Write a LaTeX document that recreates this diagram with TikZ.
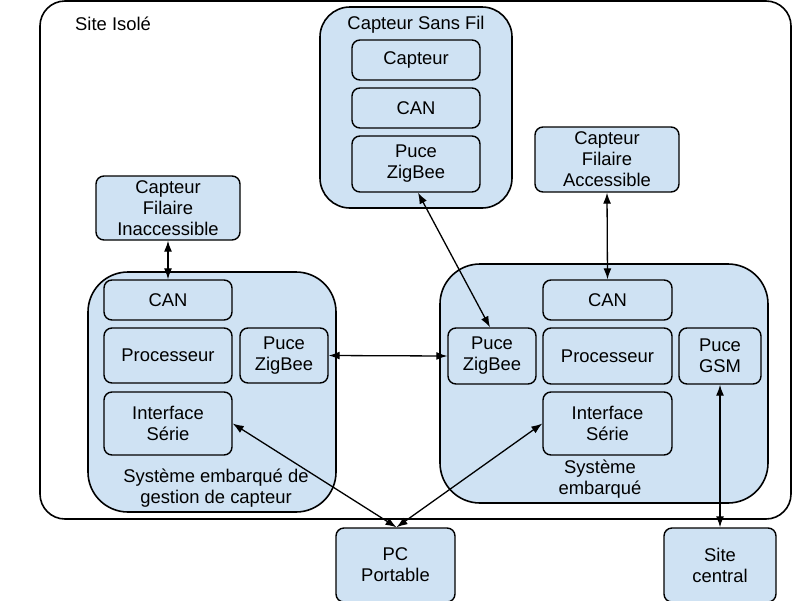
\documentclass[tikz,border=0pt]{standalone}
\usepackage{fontspec}
\setmainfont{Liberation Sans}
\usetikzlibrary{arrows.meta}
\definecolor{boxfill}{RGB}{207,226,243}
\begin{document}
\begin{tikzpicture}[x=1pt,y=-1pt,
  every node/.style={font=\fontsize{18.4}{21}\selectfont},
  ibox/.style={draw, line width=1.4pt, fill=boxfill, rounded corners=8pt, align=center, inner sep=0pt},
  gbox/.style={draw, line width=1.6pt, fill=boxfill, rounded corners=#1, inner sep=0pt},
  gbox/.default=30pt,
  link/.style={line width=1.3pt, {Latex[length=11pt,width=8pt]}-{Latex[length=11pt,width=8pt]}}
]
\useasboundingbox (0,0) rectangle (800,600);
% outer site
\draw[line width=1.6pt, rounded corners=25pt] (40,1) rectangle (791,519);
\node[anchor=base west, inner xsep=0pt] (site) at (75,30) {Site Isolé};
% Capteur Sans Fil group
\node[gbox=30pt, minimum width=192pt, minimum height=201pt] (csf) at (416,107.5) {};
\node[anchor=base] (csft) at (416,29) {Capteur Sans Fil};
\node[ibox, minimum width=128pt, minimum height=40pt] (ccap) at (416,60) {Capteur};
\node[ibox, minimum width=128pt, minimum height=40pt] (ccan) at (416,108) {CAN};
\node[ibox, minimum width=128pt, minimum height=56pt] (czig) at (416,164) {Puce\\ZigBee};
% wired sensors
\node[ibox, minimum width=144pt, minimum height=64pt] (cfi) at (168,208) {Capteur\\Filaire\\Inaccessible};
\node[ibox, minimum width=144pt, minimum height=65pt] (cfa) at (607,159.5) {Capteur\\Filaire\\Accessible};
% left system
\node[gbox=40pt, minimum width=248pt, minimum height=240pt] (lsys) at (212,392) {};
\node[ibox, minimum width=128pt, minimum height=40pt] (lcan) at (168,300) {CAN};
\node[ibox, minimum width=128pt, minimum height=55pt] (lproc) at (168,355.5) {Processeur};
\node[ibox, minimum width=88pt, minimum height=55pt] (lzig) at (284,355.5) {Puce\\ZigBee};
\node[ibox, minimum width=128pt, minimum height=63pt] (lint) at (168,423.5) {Interface\\Série};
\node[align=center] (llab) at (216,488) {Système embarqué de\\gestion de capteur};
% right system
\node[gbox=40pt, minimum width=328pt, minimum height=239pt] (rsys) at (604,383.5) {};
\node[ibox, minimum width=129pt, minimum height=40pt] (rcan) at (607.5,300) {CAN};
\node[ibox, minimum width=129pt, minimum height=56pt] (rproc) at (607.5,356) {Processeur};
\node[ibox, minimum width=88pt, minimum height=56pt] (rzig) at (492,356) {Puce\\ZigBee};
\node[ibox, minimum width=82pt, minimum height=56pt] (gsm) at (720,356) {Puce\\GSM};
\node[ibox, minimum width=129pt, minimum height=63pt] (rint) at (607.5,423.5) {Interface\\Série};
\node[align=center] (rlab) at (600,479) {Système\\embarqué};
% outside
\node[ibox, minimum width=119pt, minimum height=74pt] (pc) at (395.5,565) {PC\\Portable};
\node[ibox, minimum width=112pt, minimum height=74pt] (sc) at (720,565) {Site\\central};
% links
\draw[link] (cfi.south) -- (lcan.north);
\draw[link] (cfa.south) -- (rcan.north);
\draw[link] ([xshift=2pt]czig.south) -- ([xshift=-2pt]rzig.north);
\draw[link] (lzig.east) -- (rzig.west);
\draw[link] (lint.east) -- ([xshift=1pt]pc.north);
\draw[link] (rint.west) -- ([xshift=1pt]pc.north);
\draw[link] (gsm.south) -- (sc.north);
\end{tikzpicture}
\end{document}
